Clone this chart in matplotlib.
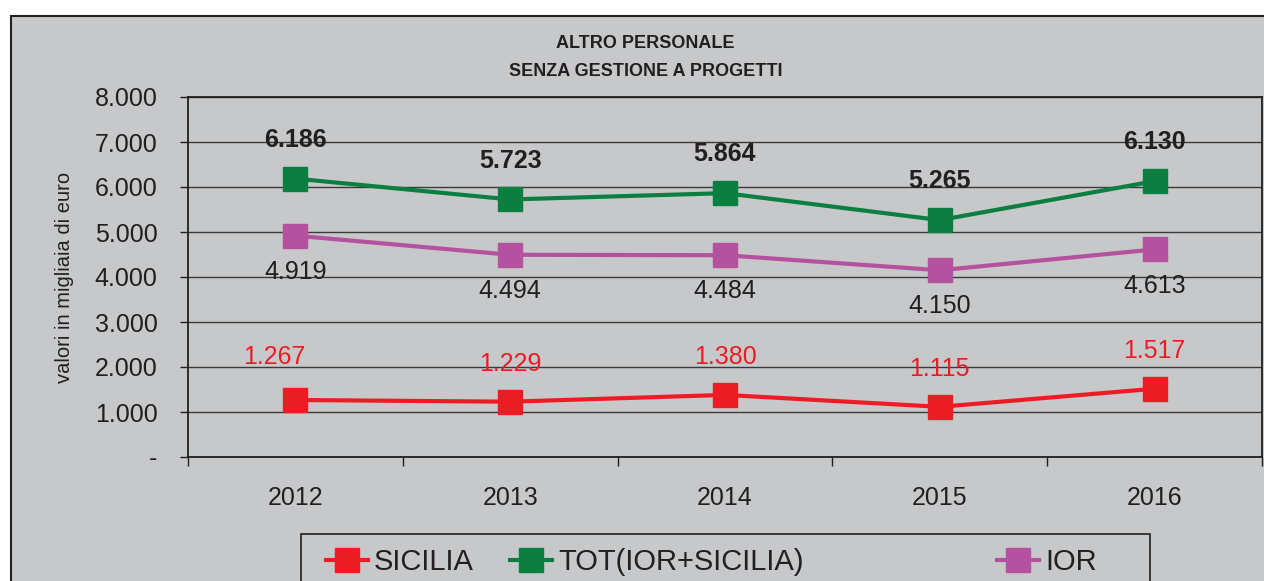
import matplotlib
matplotlib.use("Agg")
import matplotlib.pyplot as plt
from matplotlib.patches import Rectangle
from matplotlib.ticker import FuncFormatter, FixedLocator

plt.rcParams['font.family'] = ['Liberation Sans', 'DejaVu Sans']

anni = ['2012', '2013', '2014', '2015', '2016']
sicilia = [1267, 1229, 1380, 1115, 1517]
tot = [6186, 5723, 5864, 5265, 6130]
ior = [4919, 4494, 4484, 4150, 4613]

ROSSO = '#ed1c24'
VERDE = '#0b7f40'
VIOLA = '#b5529f'
GRIGIO = '#c7c8ca'
NERO = '#231f20'


def fmt_migliaia(v, pos=None):
    if v == 0:
        return '-'
    return f'{int(round(v)):,}'.replace(',', '.')


fig = plt.figure(figsize=(12.64, 5.81), dpi=100, facecolor='white')

# sfondo grigio del grafico con bordo
fig.patches.append(Rectangle((11 / 1264, -0.1), 1.2, 0.9725 + 0.1,
                             transform=fig.transFigure, facecolor=GRIGIO,
                             edgecolor=NERO, linewidth=1.5, zorder=-2))

ax = fig.add_axes([188 / 1264, 1 - 457 / 581, (1262 - 188) / 1264, (457 - 97) / 581])
ax.set_zorder(2)
ax.set_facecolor(GRIGIO)

x = list(range(len(anni)))
l_sic, = ax.plot(x, sicilia, color=ROSSO, lw=3, marker='s', ms=17.5,
                 label='SICILIA', zorder=3)
l_tot, = ax.plot(x, tot, color=VERDE, lw=3, marker='s', ms=17.5,
                 label='TOT(IOR+SICILIA)', zorder=3)
l_ior, = ax.plot(x, ior, color=VIOLA, lw=3, marker='s', ms=17.5,
                 label='IOR', zorder=3)

ax.set_xlim(-0.5, len(anni) - 0.5)
ax.set_ylim(0, 8000)
ax.set_yticks(range(0, 8001, 1000))
ax.yaxis.set_major_formatter(FuncFormatter(fmt_migliaia))
ax.grid(axis='y', color='#3a3a3a', lw=1.0, zorder=1)

# tacche ai bordi delle categorie, etichette al centro
ax.xaxis.set_major_locator(FixedLocator([i - 0.5 for i in range(len(anni) + 1)]))
ax.xaxis.set_minor_locator(FixedLocator(x))
ax.set_xticklabels([])
ax.set_xticklabels(anni, minor=True)
ax.tick_params(axis='x', which='major', length=6.5, width=1, color=NERO)
ax.tick_params(axis='x', which='minor', length=0, pad=21, labelsize=18, labelcolor=NERO)
ax.tick_params(axis='y', length=6, width=1, color=NERO, pad=16, labelsize=18, labelcolor=NERO)

for s in ax.spines.values():
    s.set_color(NERO)
    s.set_linewidth(1.3)

fig.text(65 / 1264, 1 - 277 / 581, 'valori in migliaia di euro', rotation=90,
         ha='center', va='center', fontsize=14.5, color=NERO)

# etichette dei valori
for i in x:
    ax.annotate(fmt_migliaia(tot[i]), (i, tot[i]), xytext=(0, 28),
                textcoords='offset points', ha='center', va='center',
                fontsize=18, fontweight='bold', color=NERO)
    ax.annotate(fmt_migliaia(ior[i]), (i, ior[i]), xytext=(0, -26),
                textcoords='offset points', ha='center', va='center',
                fontsize=18, color=NERO)
    dx, dy = (-15, 31) if i == 0 else (0, 27)
    ax.annotate(fmt_migliaia(sicilia[i]), (i, sicilia[i]), xytext=(dx, dy),
                textcoords='offset points', ha='center', va='center',
                fontsize=18, color=ROSSO)

fig.text(645 / 1264, 1 - 44 / 581, 'ALTRO PERSONALE', ha='center', va='center',
         fontsize=13, fontweight='bold', color=NERO)
fig.text(646 / 1264, 1 - 72 / 581, 'SENZA GESTIONE A PROGETTI', ha='center', va='center',
         fontsize=13, fontweight='bold', color=NERO)

# legenda: cornice e tre voci
fig.patches.append(Rectangle((301 / 1264, -0.05), (1150 - 301) / 1264, 0.05 + 1 - 534 / 581,
                             transform=fig.transFigure, facecolor=GRIGIO,
                             edgecolor=NERO, linewidth=1.2, zorder=1))
for handle, xpos in [(l_sic, 326), (l_tot, 510), (l_ior, 997)]:
    fig.legend(handles=[handle], loc='center left',
               bbox_to_anchor=(xpos / 1264, 1 - 562 / 581),
               frameon=False, prop={'size': 21}, borderpad=0, borderaxespad=0,
               handlelength=1.45, handletextpad=0.2, labelcolor=NERO)

fig.savefig('out.png', dpi=100, facecolor='white')
